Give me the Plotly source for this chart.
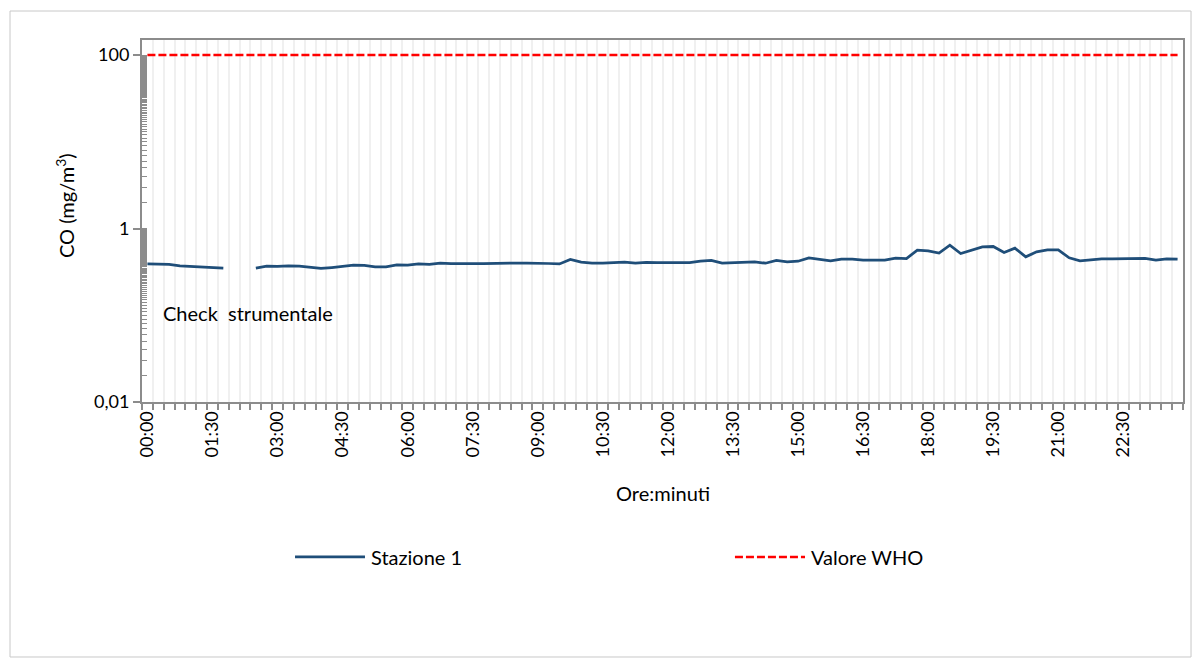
import plotly.graph_objects as go

# ---- data ----
times = [f"{h:02d}:{m:02d}" for h in range(24) for m in (0, 15, 30, 45)]
stazione_1 = [
    0.390, 0.388, 0.385, 0.371, 0.365, 0.355, 0.352, 0.349, None, None,
    0.349, 0.368, 0.365, 0.371, 0.368, 0.355, 0.346, 0.355, 0.365, 0.378,
    0.375, 0.362, 0.362, 0.381, 0.378, 0.390, 0.385, 0.400, 0.395, 0.398,
    0.395, 0.395, 0.398, 0.400, 0.400, 0.398, 0.400, 0.395, 0.390, 0.439,
    0.410, 0.398, 0.398, 0.405, 0.410, 0.398, 0.407, 0.405, 0.405, 0.398,
    0.405, 0.420, 0.428, 0.400, 0.405, 0.416, 0.413, 0.398, 0.430, 0.413,
    0.420, 0.459, 0.439, 0.424, 0.443, 0.443, 0.431, 0.428, 0.431, 0.455,
    0.451, 0.563, 0.553, 0.520, 0.643, 0.515, 0.568, 0.615, 0.620, 0.529,
    0.593, 0.471, 0.538, 0.568, 0.568, 0.459, 0.424, 0.439, 0.447, 0.447,
    0.447, 0.451, 0.451, 0.431, 0.447, 0.443,
]
valore_who = [100] * len(times)
label_step = 6
y_tick_vals = [0.01, 1, 100]
y_tick_text = ["0,01", "1", "100"]

# ---- styling ----
FONT = "Lato"
AX = "#8c8c8c"
BLUE = "#1f4e79"
idx = list(range(len(times)))

fig = go.Figure()
fig.add_trace(go.Scatter(x=idx, y=stazione_1, mode="lines", name="Stazione 1",
                         line=dict(color=BLUE, width=2.75), connectgaps=False,
                         showlegend=False))
fig.add_trace(go.Scatter(x=idx, y=valore_who, mode="lines", name="Valore WHO",
                         line=dict(color="#ff0000", width=2.5, dash="8px,3px"),
                         showlegend=False))

minor_y = [k * d for d in (0.01, 1) for k in range(2, 100)]
bounds = [i - 0.5 for i in range(len(times) + 1)]

fig.update_layout(
    width=1195, height=660,
    margin=dict(l=134, r=20, t=32, b=266),
    paper_bgcolor="white", plot_bgcolor="white",
    font=dict(family=FONT, size=18, color="#000000"),
    xaxis=dict(
        range=[-0.5, len(times) - 0.5],
        tickmode="array",
        tickvals=idx[::label_step],
        ticktext=times[::label_step],
        tickangle=-90,
        ticks="", showgrid=False, zeroline=False,
        showline=True, linecolor=AX, linewidth=2, mirror=True,
        tickfont=dict(size=18),
        minor=dict(tickmode="array", tickvals=bounds, ticks="outside",
                   ticklen=6, tickcolor=AX, tickwidth=1.5,
                   showgrid=True, gridcolor="#f0f0f0", gridwidth=2),
    ),
    yaxis=dict(
        type="log",
        range=[-2, 2.173],
        tickmode="array",
        tickvals=y_tick_vals,
        ticktext=y_tick_text,
        ticks="outside", ticklen=7, tickcolor=AX, tickwidth=1.5,
        showgrid=False, zeroline=False,
        showline=True, linecolor=AX, linewidth=2, mirror=True,
        tickfont=dict(size=18),
        minor=dict(tickmode="array", tickvals=minor_y, ticks="inside",
                   ticklen=5, tickcolor=AX, tickwidth=1, showgrid=False),
    ),
    annotations=[
        dict(text="Ore:minuti", xref="paper", yref="paper", x=0.5, y=-0.2514,
             xanchor="center", yanchor="middle", showarrow=False,
             font=dict(size=20)),
        dict(text="CO (mg/m<sup>3</sup>)", xref="paper", yref="paper",
             x=-0.074, y=0.544, textangle=-90, xanchor="center",
             yanchor="middle", showarrow=False, font=dict(size=20)),
        dict(text="Check\u00a0 strumentale", xref="paper", yref="paper",
             x=0.0182, y=0.2459, xanchor="left", yanchor="middle",
             showarrow=False, font=dict(size=20)),
        dict(text="Stazione 1", xref="paper", yref="paper", x=0.218, y=-0.428,
             xanchor="left", yanchor="middle", showarrow=False,
             font=dict(size=20)),
        dict(text="Valore WHO", xref="paper", yref="paper", x=0.6407, y=-0.428,
             xanchor="left", yanchor="middle", showarrow=False,
             font=dict(size=20)),
    ],
    shapes=[
        dict(type="rect", xref="paper", yref="paper", x0=-0.1268, x1=1.0077,
             y0=-0.7044, y1=1.0801, line=dict(color="#c8c8c8", width=1),
             layer="below"),
        dict(type="line", xref="paper", yref="paper", x0=0.147, x1=0.2142,
             y0=-0.428, y1=-0.428, line=dict(color=BLUE, width=2.75)),
        dict(type="line", xref="paper", yref="paper", x0=0.5696, x1=0.6369,
             y0=-0.428, y1=-0.428,
             line=dict(color="#ff0000", width=2.5, dash="8px,3px")),
    ],
)

fig.write_html("out.html")
